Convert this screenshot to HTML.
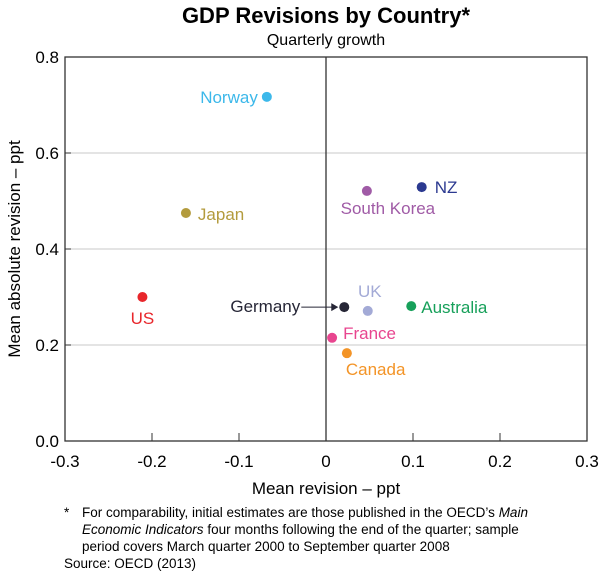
<!DOCTYPE html>
<html><head><meta charset="utf-8"><style>
body{margin:0;background:#fff;width:600px;height:574px;overflow:hidden;font-family:"Liberation Sans",Arial,sans-serif}
</style></head><body>
<svg width="600" height="574" xmlns="http://www.w3.org/2000/svg" font-family="Liberation Sans, Arial, sans-serif">
<text x="326" y="23" text-anchor="middle" font-size="22" font-weight="bold" fill="#000">GDP Revisions by Country*</text>
<text x="326" y="45" text-anchor="middle" font-size="16" fill="#000">Quarterly growth</text>
<g id="grid"></g>
<g id="axes"></g>
<g id="marks"></g>
<text transform="translate(20,249) rotate(-90)" text-anchor="middle" font-size="17">Mean absolute revision – ppt</text>
<text x="326" y="494" text-anchor="middle" font-size="17">Mean revision – ppt</text>
<g font-size="13.5" fill="#000">
<text x="64" y="517">*</text>
<text x="82" y="517">For comparability, initial estimates are those published in the OECD’s <tspan font-style="italic">Main</tspan></text>
<text x="82" y="534"><tspan font-style="italic">Economic Indicators</tspan> four months following the end of the quarter; sample</text>
<text x="82" y="551">period covers March quarter 2000 to September quarter 2008</text>
<text x="64" y="568">Source: OECD (2013)</text>
</g>
</svg>
<script>
const countries=["Norway","Japan","US","NZ","South Korea","Germany","UK","Australia","France","Canada"];
const xVals=[-0.068,-0.161,-0.211,0.110,0.047,0.021,0.048,0.098,0.007,0.024];
const yVals=[0.717,0.475,0.300,0.529,0.521,0.279,0.271,0.281,0.215,0.183];
const colors=["#3cb8ea","#b39b3d","#e8262b","#2b3990","#a05ba6","#262636","#a3aad6","#17a05a","#e8458f","#f39427"];
const xTicks=[-0.3,-0.2,-0.1,0,0.1,0.2,0.3];
const xTickLabels=["-0.3","-0.2","-0.1","0","0.1","0.2","0.3"];
const yTicks=[0,0.2,0.4,0.6,0.8];
const yTickLabels=["0.0","0.2","0.4","0.6","0.8"];
const NS="http://www.w3.org/2000/svg";
const L=65,R=587,T=57,B=441;
const sx=v=>L+(v+0.3)/0.6*(R-L);
const sy=v=>B-v/0.8*(B-T);
function mk(tag,attrs,parent,txt){const e=document.createElementNS(NS,tag);for(const k in attrs)e.setAttribute(k,attrs[k]);if(txt!==undefined)e.textContent=txt;parent.appendChild(e);return e;}
const grid=document.getElementById('grid'),axes=document.getElementById('axes'),marks=document.getElementById('marks');
yTicks.forEach((v,i)=>{
 if(v>0&&v<0.8){const g=mk('line',{x1:L,x2:R,y1:sy(v),y2:sy(v),stroke:'#c8c8c8','stroke-width':1},grid);
 
 }
 const t=mk('text',{x:L-6,y:sy(v)+6,'text-anchor':'end','font-size':17},axes,yTickLabels[i]);
 
 
 const tk=mk('line',{x1:L,x2:L+6,y1:sy(v),y2:sy(v),stroke:'#333'},axes);
 
 
});
xTicks.forEach((v,i)=>{
 const tk=mk('line',{x1:sx(v),x2:sx(v),y1:B,y2:B-8,stroke:'#333'},axes);
 
 
 const t=mk('text',{x:sx(v),y:B+26,'text-anchor':'middle','font-size':17},axes,xTickLabels[i]);
 
 
});
const frame=mk('rect',{x:L,y:T,width:R-L,height:B-T,fill:'none',stroke:'#333','stroke-width':1.3},axes);


const zl=mk('line',{x1:sx(0),x2:sx(0),y1:T,y2:B,stroke:'#333','stroke-width':1.3},axes);


// label offsets [dx,dy,anchor]
const lab={"Norway":[-9,6,'end'],"Japan":[12,7,'start'],"US":[0,27,'middle'],"NZ":[13,6,'start'],"South Korea":[21,23,'middle'],"Germany":[-44,5,'end'],"UK":[2,-14,'middle'],"Australia":[10,7,'start'],"France":[11,1,'start'],"Canada":[-1,22,'start']};
countries.forEach((c,i)=>{
 const x=sx(xVals[i]),y=sy(yVals[i]);
 const p=mk('circle',{cx:x,cy:y,r:5,fill:colors[i]},marks);
 
 
 const o=lab[c];
 const t=mk('text',{x:x+o[0],y:y+o[1],'text-anchor':o[2],'font-size':17,fill:colors[i]},marks,c);
 
 
 if(c==="Germany"){
  const a=mk('line',{x1:x-43,x2:x-10,y1:y,y2:y,stroke:'#262636','stroke-width':1},marks);
  
  
  const h=mk('path',{d:`M${x-6},${y} L${x-13},${y-4} L${x-13},${y+4} Z`,fill:'#262636'},marks);
  
  
 }
});
</script>
</body></html>
